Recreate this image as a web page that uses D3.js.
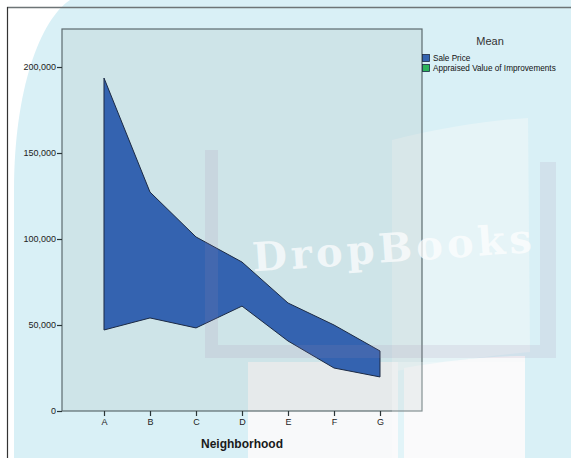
<!DOCTYPE html>
<html><head><meta charset="utf-8">
<script src="https://cdn.jsdelivr.net/npm/d3@7"></script>
<style>body{margin:0;background:#fff}svg{display:block}text{font-family:Arial,"Liberation Sans",sans-serif}</style>
</head><body>
<svg id="c" width="571" height="458"></svg>
<script>
const categories = ["A","B","C","D","E","F","G"];
const salePrice = [193600, 127300, 101200, 86600, 62800, 50000, 34900];
const appraisedImprovements = [47100, 54100, 48300, 61000, 40700, 25000, 19800];
const yTicks = [0, 50000, 100000, 150000, 200000];
const seriesNames = ["Sale Price", "Appraised Value of Improvements"];
const seriesColors = ["#3463b0", "#2cb35a"];

const svg = d3.select("#c");
const W = 571, H = 458;
const plot = {l: 62, r: 422, t: 29, b: 411};

// background + watermark (under)
svg.append("rect").attr("width", W).attr("height", H).attr("fill", "#ffffff");
svg.append("path")
  .attr("d", "M14,458 L14,190 C14,90 40,20 70,0 L571,0 L571,458 Z")
  .attr("fill", "#d9f0f6");
// book pages
svg.append("path").attr("d", "M392,140 C440,128 490,120 528,118 L530,352 C490,356 440,362 392,372 Z")
  .attr("fill", "#e6f4f7");
svg.append("path").attr("d", "M248,362 L398,362 L398,458 L248,458 Z").attr("fill", "#f8f9fa");
svg.append("path").attr("d", "M404,368 C450,360 490,356 525,356 L525,458 L404,458 Z").attr("fill", "#f8f9fa");

// outer frame lines
svg.append("line").attr("x1", 7).attr("x2", W).attr("y1", 7.5).attr("y2", 7.5).attr("stroke", "#6d7476").attr("stroke-width", 1.5);
svg.append("line").attr("x1", 7.5).attr("x2", 7.5).attr("y1", 7).attr("y2", H).attr("stroke", "#333").attr("stroke-width", 1.2);

const x = d3.scalePoint().domain(categories).range([plot.l, plot.r]).padding(0.913);
const y = d3.scaleLinear().domain([0, 222100]).range([plot.b, plot.t]);

// plot area
svg.append("rect").attr("x", plot.l).attr("y", plot.t).attr("width", plot.r - plot.l).attr("height", plot.b - plot.t)
  .attr("fill", "rgba(175,190,192,0.25)").attr("stroke", "#5d6b6e").attr("stroke-width", 1.2);

// difference area
const data = categories.map((c, i) => ({c, hi: salePrice[i], lo: appraisedImprovements[i]}));
const area = d3.area().x(d => x(d.c)).y0(d => y(d.lo)).y1(d => y(d.hi));
svg.append("path").datum(data).attr("d", area)
  .attr("fill", seriesColors[0]).attr("stroke", "#1c2a44").attr("stroke-width", 1).attr("stroke-linejoin", "round");

// axes
const yAxis = d3.axisLeft(y).tickValues(yTicks).tickFormat(d3.format(",")).tickSize(5).tickSizeOuter(0);
const gy = svg.append("g").attr("transform", `translate(${plot.l},0)`).call(yAxis);
const xAxis = d3.axisBottom(x).tickSize(5).tickSizeOuter(0);
const gx = svg.append("g").attr("transform", `translate(0,${plot.b})`).call(xAxis);
[gy, gx].forEach(g => {
  g.select(".domain").remove();
  g.selectAll(".tick line").attr("stroke", "#2a3436").attr("stroke-width", 1.2);
  g.selectAll(".tick text").attr("fill", "#222").style("font-size", "9px").style("font-family", "Arial, 'Liberation Sans', sans-serif");
});
gy.selectAll(".tick text").attr("x", -6);
gx.selectAll(".tick text").attr("y", 8);

svg.append("text").attr("x", 242).attr("y", 448).attr("text-anchor", "middle")
  .style("font-size", "12px").style("font-weight", "bold").attr("fill", "#1a1a1a").text("Neighborhood");

// legend
svg.append("text").attr("x", 490).attr("y", 45).attr("text-anchor", "middle")
  .style("font-size", "11px").attr("fill", "#333").text("Mean");
seriesNames.forEach((n, i) => {
  const yy = 54 + i * 10;
  svg.append("rect").attr("x", 422.5).attr("y", yy + 0.5).attr("width", 7).attr("height", 7)
    .attr("fill", seriesColors[i]).attr("stroke", "#1c2a44").attr("stroke-width", 0.8);
  svg.append("text").attr("x", 433).attr("y", yy + 7).style("font-size", "8.2px").attr("fill", "#111").text(n);
});

// watermark overlay
const ov = svg.append("g").attr("pointer-events", "none");
ov.append("path").attr("d", "M205,150 L218,150 L218,345 L540,345 L540,162 L556,162 L556,358 L205,358 Z")
  .attr("fill", "#a68aaa").attr("opacity", 0.14);
ov.append("rect").attr("x", 392).attr("y", 362).attr("width", 133).attr("height", 96).attr("fill", "#ffffff").attr("opacity", 0.25);
ov.append("text").attr("x", 252).attr("y", 262).attr("transform", "rotate(-4,390,250)")
  .style("font-family", "'DejaVu Serif', serif").style("font-weight", "bold").style("font-size", "40px")
  .attr("fill", "#ffffff").attr("opacity", 0.7).attr("textLength", 280).text("DropBooks");
</script>
</body></html>
